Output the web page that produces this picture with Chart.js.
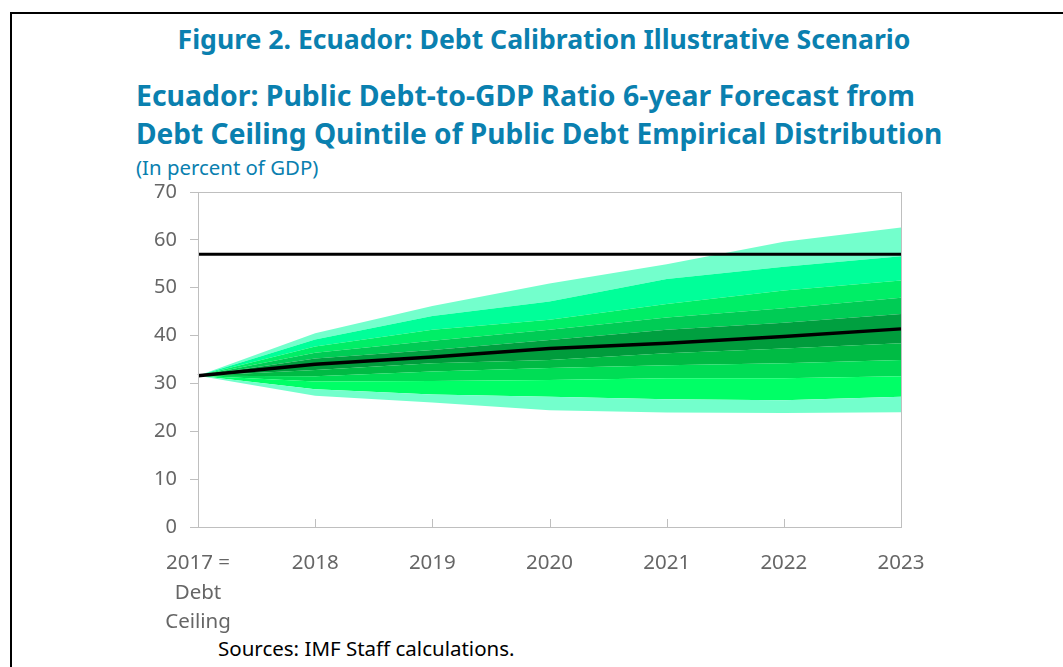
<!DOCTYPE html>
<html>
<head>
<meta charset="utf-8">
<script src="https://cdn.jsdelivr.net/npm/chart.js@4/dist/chart.umd.min.js"></script>
<style>
  html, body { margin: 0; padding: 0; background: #fff; }
  body { width: 1063px; height: 667px; position: relative; overflow: hidden; font-family: "Noto Sans", sans-serif; }
  .frame { position: absolute; left: 10px; top: 12px; width: 1060px; height: 670px; border-top: 2px solid #000; border-left: 2px solid #000; }
  .txt { position: absolute; white-space: nowrap; color: #0A80AF; }
  #fig { left: 0; width: 1088px; text-align: center; top: 21px; font-size: 26.6px; font-weight: bold; }
  #t1 { left: 136px; top: 76px; font-size: 28.4px; font-weight: bold; }
  #t2 { left: 136px; top: 114px; font-size: 28.1px; font-weight: bold; }
  #unit { left: 136px; top: 153px; font-size: 20.4px; }
  #src { left: 218px; top: 634px; font-size: 20.5px; color: #000; }
  canvas { position: absolute; left: 0; top: 0; }
</style>
</head>
<body>
<div class="frame"></div>
<div class="txt" id="fig">Figure 2. Ecuador: Debt Calibration Illustrative Scenario</div>
<div class="txt" id="t1">Ecuador: Public Debt-to-GDP Ratio 6-year Forecast from</div>
<div class="txt" id="t2">Debt Ceiling Quintile of Public Debt Empirical Distribution</div>
<div class="txt" id="unit">(In percent of GDP)</div>
<div class="txt" id="src">Sources: IMF Staff calculations.</div>
<canvas id="chart" width="1063" height="667"></canvas>
<script>
// x categories
const years = [['2017 =', 'Debt', 'Ceiling'], '2018', '2019', '2020', '2021', '2022', '2023'];

// forecast distribution, decile boundaries (percent of GDP)
const d0   = [31.6, 27.4, 26.0, 24.4, 23.9, 23.8, 24.0];
const d10  = [31.6, 28.8, 27.7, 27.2, 26.7, 26.5, 27.2];
const d20  = [31.6, 30.4, 30.5, 30.7, 31.1, 31.1, 31.5];
const d30  = [31.6, 31.5, 32.5, 33.2, 33.8, 34.2, 34.9];
const d40  = [31.6, 32.8, 34.2, 34.9, 36.3, 37.3, 38.4];
const d50  = [31.6, 34.0, 35.5, 37.3, 38.4, 39.8, 41.4];
const d60  = [31.6, 35.2, 37.0, 39.1, 41.2, 42.7, 44.5];
const d70  = [31.6, 36.4, 38.9, 41.2, 43.8, 45.7, 47.9];
const d80  = [31.6, 37.7, 41.2, 43.3, 46.6, 49.4, 51.5];
const d90  = [31.6, 39.2, 44.1, 47.1, 51.8, 54.4, 56.6];
const d100 = [31.6, 40.5, 46.2, 50.9, 54.9, 59.6, 62.6];

const debtCeiling = [57, 57, 57, 57, 57, 57, 57];
const yTicks = [0, 10, 20, 30, 40, 50, 60, 70];

// bottom-up band colours (band between one boundary and the one below)
const bounds = [d0, d10, d20, d30, d40, d50, d60, d70, d80, d90, d100];
const bandColors = [null, '#73FFCC', '#00FF66', '#00DD55', '#00BB44', '#009C3C',
                    '#00A040', '#00CC55', '#00EE66', '#00FF99', '#73FFCC'];

const datasets = bounds.map((b, i) => ({
    data: b,
    borderWidth: 0,
    pointRadius: 0,
    tension: 0,
    fill: i === 0 ? false : '-1',
    backgroundColor: bandColors[i] || 'transparent'
}));
datasets.push({ data: debtCeiling, borderColor: '#000', borderWidth: 3, pointRadius: 0, fill: false });
datasets.push({ data: d50, borderColor: '#000', borderWidth: 3.5, pointRadius: 0, fill: false });

// plot box and inward x ticks
const boxPlugin = {
    id: 'box',
    afterDraw(chart) {
        const { ctx, chartArea: a, scales } = chart;
        ctx.save();
        ctx.strokeStyle = '#BFBFBF';
        ctx.lineWidth = 1;
        ctx.strokeRect(a.left + 0.5, a.top + 0.5, a.right - a.left, a.bottom - a.top);
        ctx.beginPath();
        scales.x.ticks.forEach((t, i) => {
            const x = Math.round(scales.x.getPixelForTick(i)) + 0.5;
            ctx.moveTo(x, a.bottom);
            ctx.lineTo(x, a.bottom - 8);
        });
        ctx.stroke();
        ctx.restore();
    }
};

new Chart(document.getElementById('chart'), {
    type: 'line',
    data: { labels: years, datasets: datasets },
    plugins: [boxPlugin],
    options: {
        responsive: false,
        animation: false,
        layout: { padding: { left: 118, top: 192, right: 162, bottom: 30 } },
        plugins: {
            legend: { display: false },
            tooltip: { enabled: false },
            filler: { drawTime: 'beforeDatasetsDraw' }
        },
        scales: {
            x: {
                offset: false,
                grid: { display: false },
                border: { display: true, color: '#BFBFBF' },
                ticks: {
                    color: '#666666', padding: 14, maxRotation: 0, autoSkip: false,
                    font: { family: 'Noto Sans', size: 20.5, lineHeight: 1.42 }
                },
                afterFit(scale) { scale.height = 110; }
            },
            y: {
                min: 0, max: 70,
                afterBuildTicks(scale) { scale.ticks = yTicks.map(v => ({ value: v })); },
                grid: { drawOnChartArea: false, tickLength: 8, color: '#BFBFBF' },
                border: { display: true, color: '#BFBFBF' },
                ticks: {
                    color: '#666666', padding: 13,
                    font: { family: 'Noto Sans', size: 20 }
                },
                afterFit(scale) { scale.width = 80; }
            }
        }
    }
});
</script>
</body>
</html>
